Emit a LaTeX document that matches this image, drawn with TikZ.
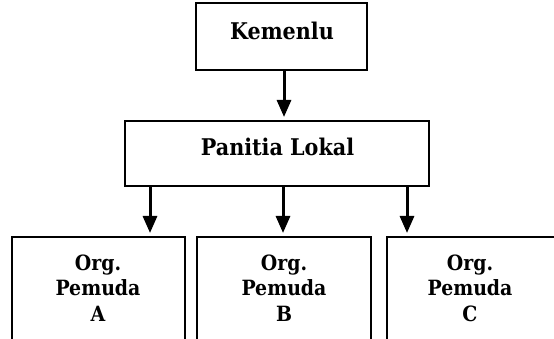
\documentclass[tikz,border=0pt]{standalone}
\usepackage{fontspec}
\setmainfont{DejaVu Serif Condensed}
\usetikzlibrary{arrows.meta}
\begin{document}
\begin{tikzpicture}[x=1pt,y=-1pt,
  box/.style={draw=black,line width=2.5pt,inner sep=0pt},
  arr/.style={line width=3pt,-{Triangle[length=17pt,width=14pt]},shorten >=4pt},
  big/.style={font=\fontsize{23}{28}\selectfont\bfseries,inner sep=0pt,anchor=base},
  small/.style={font=\fontsize{21}{25.5}\selectfont\bfseries,inner sep=0pt,anchor=base,align=center}]
\useasboundingbox (0,0) rectangle (554,339);
\clip (0,0) rectangle (554,339);
% top box
\node[box,minimum width=171pt,minimum height=67pt] (k) at (281.5,36.5) {};
\node[big] (kt) at (282,40) {Kemenlu};
% middle box
\node[box,minimum width=304pt,minimum height=65pt] (pl) at (277,153.5) {};
\node[big] (plt) at (277.5,156) {Panitia Lokal};
% bottom boxes (cut off by the page edge)
\node[box,minimum width=173pt,minimum height=120pt] (a) at (98.5,297) {};
\node[box,minimum width=174pt,minimum height=120pt] (b) at (284,297) {};
\node[box,minimum width=180pt,minimum height=120pt] (c) at (477,297) {};
\node[small] (at) at (98,321) {Org.\\Pemuda\\A};
\node[small] (bt) at (284,321) {Org.\\Pemuda\\B};
\node[small] (ct) at (470,321) {Org.\\Pemuda\\C};
% arrows
\coordinate (tk) at (284,121);
\coordinate (ta) at (150,237);
\coordinate (tb) at (283,237);
\coordinate (tc) at (407,237);
\draw[arr] (k.south -| tk) -- (tk);
\draw[arr] (pl.south -| ta) -- (ta);
\draw[arr] (pl.south -| tb) -- (tb);
\draw[arr] (pl.south -| tc) -- (tc);
\end{tikzpicture}
\end{document}
